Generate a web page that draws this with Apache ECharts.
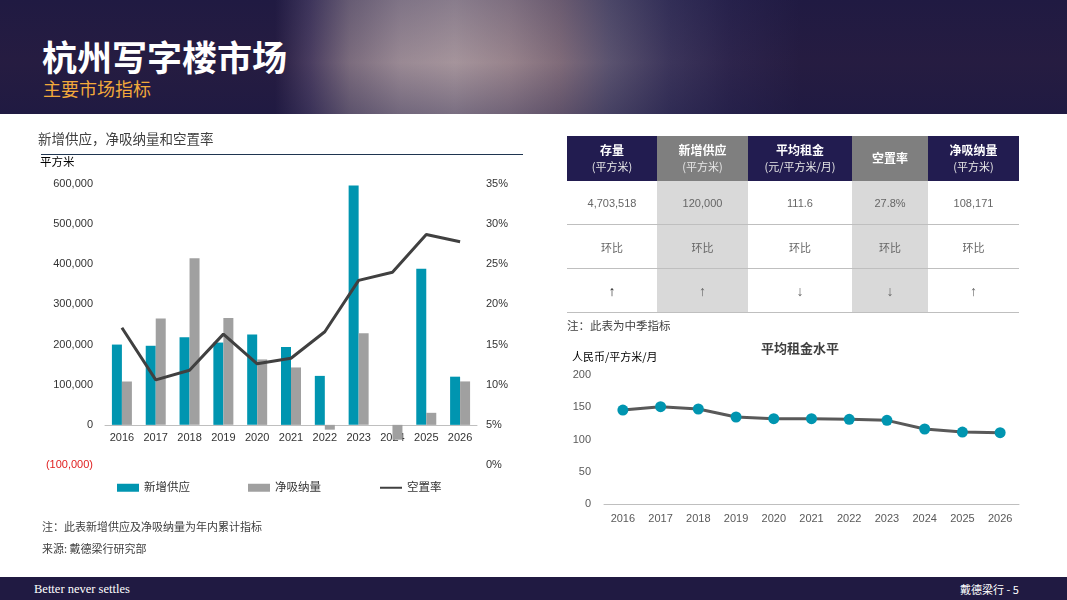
<!DOCTYPE html>
<html lang="zh">
<head>
<meta charset="UTF-8">
<title>杭州写字楼市场</title>
<script src="https://cdn.jsdelivr.net/npm/echarts@6.0.0/dist/echarts.min.js"></script>
<style>
  html, body { margin: 0; padding: 0; background: #fff; }
  body { width: 1067px; height: 600px; position: relative; overflow: hidden;
         font-family: "Liberation Sans", "Noto Sans CJK SC", sans-serif; }
  #header { position: absolute; left: 0; top: 0; width: 1067px; height: 114px;
    background:
      linear-gradient(180deg, rgba(32,26,66,0.30) 0%, rgba(70,40,60,0.15) 55%, rgba(32,26,66,0.40) 100%),
      linear-gradient(90deg, #201a42 0px, #201a42 275px, #4a4066 310px, #857889 350px, #a89aa3 400px,
        #b6a7ac 455px, #a6939a 510px, #8a7784 560px, #5e5a78 610px, #3a3760 670px, #29244f 730px,
        #201a42 800px, #201a42 100%); }
  #title { position: absolute; left: 42px; top: 34px; color: #fff; font-size: 35px; font-weight: bold;
           font-family: "Noto Sans CJK SC", sans-serif; line-height: 44px; }
  #subtitle { position: absolute; left: 43px; top: 76px; color: #f2a93b; font-size: 18px;
              font-family: "Noto Sans CJK SC", sans-serif; line-height: 24px; }
  #footer { position: absolute; left: 0; top: 577px; width: 1067px; height: 23px; background: #201a42; }
  #slogan { position: absolute; left: 34px; top: 3px; color: #fff; font-size: 12.5px;
            font-family: "Liberation Serif", serif; line-height: 18px; }
  #page { position: absolute; left: 960px; top: 3px; color: #fff; font-size: 11px; line-height: 18px;
          font-family: "Noto Sans CJK SC", sans-serif; }
  #main { position: absolute; left: 0; top: 0; width: 1067px; height: 600px; }
  #kpi { position: absolute; left: 567px; top: 136px; width: 452px; border-collapse: collapse;
         table-layout: fixed; font-family: "Liberation Sans", "Noto Sans CJK SC", sans-serif; }
  #kpi td { padding: 0; text-align: center; color: #666; font-size: 11px; }
  #kpi tr.head td { height: 45px; color: #fff; line-height: 15px; }
  #kpi tr.head td b { font-size: 12px; font-family: "Noto Sans CJK SC", sans-serif; }
  #kpi tr.head td span { font-size: 11px; color: #e6e6e6; font-family: "Noto Sans CJK SC", sans-serif; }
  #kpi tr.body td { height: 43px; border-bottom: 1px solid #bfbfbf; }
  #kpi tr.body.zh td { font-family: "Noto Sans CJK SC", sans-serif; }
  #kpi tr.body.arrow td { font-size: 14px; }
  #kpiNote { position: absolute; left: 567px; top: 317px; font-size: 11.5px; color: #404040;
             font-family: "Noto Sans CJK SC", sans-serif; }
</style>
</head>
<body>
<div id="header">
  <div id="title">杭州写字楼市场</div>
  <div id="subtitle">主要市场指标</div>
</div>
<div id="main"></div>
<table id="kpi"></table>
<div id="kpiNote">注：此表为中季指标</div>
<div id="footer">
  <div id="slogan">Better never settles</div>
  <div id="page">戴德梁行 - 5</div>
</div>
<script type="text/javascript">
    // 数据
    var years = ['2016', '2017', '2018', '2019', '2020', '2021', '2022', '2023', '2024', '2025', '2026'];
    var newSupply = [200000, 197000, 218000, 205000, 225000, 194000, 122000, 596000, 0, 389000, 120000];
    var netAbsorption = [108000, 265000, 415000, 266000, 163000, 143000, -12000, 228000, -37000, 30000, 108171];
    var vacancyRate = [17.1, 10.6, 11.8, 16.3, 12.6, 13.3, 16.6, 23.0, 24.0, 28.7, 27.8];
    var avgRent = [145.7, 150.9, 147.3, 134.9, 132.3, 132.3, 131.3, 129.7, 116.3, 111.6, 110.5];

    var tableHeads = ['存量', '新增供应', '平均租金', '空置率', '净吸纳量'];
    var tableUnits = ['(平方米)', '(平方米)', '(元/平方米/月)', '', '(平方米)'];
    var tableValues = ['4,703,518', '120,000', '111.6', '27.8%', '108,171'];
    var tableChange = ['环比', '环比', '环比', '环比', '环比'];
    var tableArrows = ['↑', '↑', '↓', '↓', '↑'];

    var NAVY = '#221c50';
    var TEAL = '#0095b0';
    var GREY = '#a0a0a0';
    var FONT = '"Liberation Sans", "Noto Sans CJK SC", sans-serif';

    // 表格
    var colW = [90, 91, 104, 76, 91];
    var html = '<colgroup>' + colW.map(function (w) { return '<col style="width:' + w + 'px">'; }).join('') + '</colgroup>';
    html += '<tr class="head">' + tableHeads.map(function (h, i) {
        var bg = i % 2 ? '#7f7f7f' : NAVY;
        return '<td style="background:' + bg + '"><b>' + h + '</b>' + (tableUnits[i] ? '<br><span>' + tableUnits[i] + '</span>' : '') + '</td>';
    }).join('') + '</tr>';
    function bodyRow(cls, arr) {
        return '<tr class="body ' + cls + '">' + arr.map(function (v, i) {
            var bg = i % 2 ? '#d9d9d9' : 'transparent';
            var extra = (cls === 'arrow' && i === 0) ? ';color:#262626;font-weight:bold' : '';
            return '<td style="background:' + bg + extra + '">' + v + '</td>';
        }).join('') + '</tr>';
    }
    html += bodyRow('', tableValues) + bodyRow('zh', tableChange) + bodyRow('arrow', tableArrows);
    document.getElementById('kpi').innerHTML = html;

    function fmt(v) {
        return String(v).replace(/\B(?=(\d{3})+(?!\d))/g, ',');
    }

    var myChart = echarts.init(document.getElementById('main'));

    var option = {
        textStyle: { fontFamily: FONT },
        animation: false,
        legend: {
            left: 112, top: 477,
            itemWidth: 22, itemHeight: 8, itemGap: 58,
            textStyle: { fontSize: 11.5, color: '#333', fontFamily: FONT },
            data: [
                { name: '新增供应', icon: 'rect' },
                { name: '净吸纳量', icon: 'rect' },
                { name: '空置率', itemStyle: { opacity: 0 } }
            ]
        },
        grid: [
            { left: 105, top: 184, width: 372, height: 281 },
            { left: 604, top: 375, width: 415, height: 129 }
        ],
        xAxis: [
            {
                type: 'category', gridIndex: 0, data: years,
                // 横轴放在 0 值处（下方为负值区）
                offset: -40.14,
                axisLine: { onZero: false, lineStyle: { color: '#bfbfbf', width: 1 } },
                axisTick: { show: false },
                axisLabel: { color: '#333', fontSize: 11, margin: 8 }
            },
            {
                type: 'category', gridIndex: 1, data: years,
                axisLine: { lineStyle: { color: '#bfbfbf', width: 1 } },
                axisTick: { show: false },
                axisLabel: { color: '#595959', fontSize: 11, margin: 9 }
            }
        ],
        yAxis: [
            {
                type: 'value', gridIndex: 0, min: -100000, max: 600000, interval: 100000,
                splitLine: { show: false }, axisLine: { show: false }, axisTick: { show: false },
                axisLabel: {
                    fontSize: 11, margin: 12,
                    color: function (v) { return v < 0 ? '#e02020' : '#333'; },
                    formatter: function (v) { return v < 0 ? '(' + fmt(-v) + ')' : fmt(v); }
                }
            },
            {
                type: 'value', gridIndex: 0, position: 'right', min: 0, max: 35, interval: 5,
                splitLine: { show: false }, axisLine: { show: false }, axisTick: { show: false },
                axisLabel: { fontSize: 11, margin: 9, color: '#333', formatter: '{value}%' }
            },
            {
                type: 'value', gridIndex: 1, min: 0, max: 200, interval: 50,
                splitLine: { show: false }, axisLine: { show: false }, axisTick: { show: false },
                axisLabel: { fontSize: 11, margin: 13, color: '#595959' }
            }
        ],
        series: [
            {
                name: '新增供应', type: 'bar', xAxisIndex: 0, yAxisIndex: 0,
                data: newSupply, barWidth: 10, barGap: '0%',
                itemStyle: { color: TEAL }
            },
            {
                name: '净吸纳量', type: 'bar', xAxisIndex: 0, yAxisIndex: 0,
                data: netAbsorption, barWidth: 10, barGap: '0%',
                itemStyle: { color: GREY }
            },
            {
                name: '空置率', type: 'line', xAxisIndex: 0, yAxisIndex: 1,
                data: vacancyRate, symbol: 'none',
                lineStyle: { color: '#404040', width: 3 },
                itemStyle: { color: '#404040' }, z: 5
            },
            {
                name: '平均租金', type: 'line', xAxisIndex: 1, yAxisIndex: 2,
                data: avgRent, symbol: 'circle', symbolSize: 11,
                lineStyle: { color: '#595959', width: 3 },
                itemStyle: { color: TEAL }
            }
        ],
        graphic: [
            { type: 'text', left: 38, top: 132, style: { text: '新增供应，净吸纳量和空置率', font: '13.5px "Noto Sans CJK SC"', fill: '#404040' } },
            { type: 'line', shape: { x1: 41, y1: 154.5, x2: 523, y2: 154.5 }, style: { stroke: '#1f3550', lineWidth: 1 } },
            { type: 'text', left: 40, top: 156, style: { text: '平方米', font: '11.5px "Noto Sans CJK SC"', fill: '#000' } },
            { type: 'text', left: 42, top: 521, style: { text: '注：此表新增供应及净吸纳量为年内累计指标', font: '11px "Noto Sans CJK SC"', fill: '#404040' } },
            { type: 'text', left: 42, top: 543, style: { text: '来源: 戴德梁行研究部', font: '11px "Noto Sans CJK SC"', fill: '#404040' } },
            { type: 'text', x: 800, y: 348, style: { text: '平均租金水平', font: 'bold 13px "Noto Sans CJK SC"', fill: '#404040', align: 'center', verticalAlign: 'middle' } },
            { type: 'text', left: 572, top: 351, style: { text: '人民币/平方米/月', font: '11px "Noto Sans CJK SC"', fill: '#000' } }
        ]
    };

    myChart.setOption(option);
</script>
</body>
</html>
